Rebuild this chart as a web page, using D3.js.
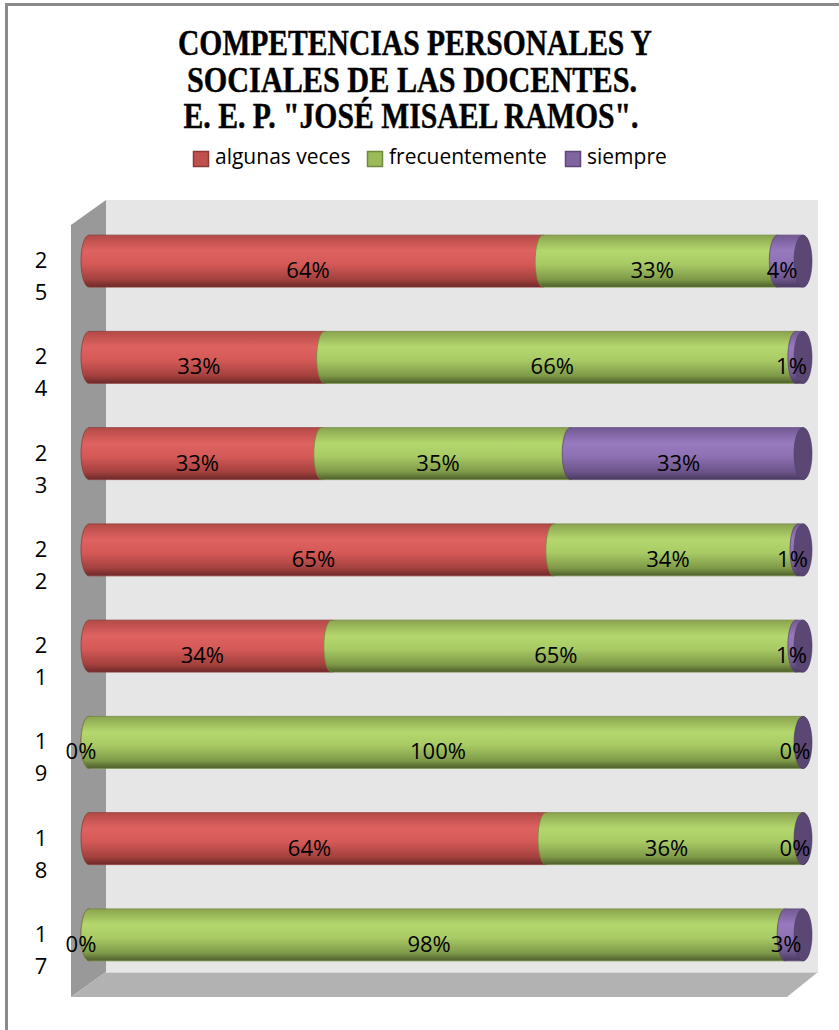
<!DOCTYPE html>
<html><head><meta charset="utf-8">
<script src="https://cdn.jsdelivr.net/npm/d3@7"></script>
<style>html,body{margin:0;padding:0;background:#fff;}svg{display:block;}</style>
</head><body>
<div id="chart"></div>
<script>
// ---- data ----
const categories = ["2 5", "2 4", "2 3", "2 2", "2 1", "1 9", "1 8", "1 7"];
const seriesNames = ["algunas veces", "frecuentemente", "siempre"];
const algunasVeces   = [63.6, 33.0, 32.6, 65.1, 34.0, 0.0, 64.0, 0.0];
const frecuentemente = [32.8, 66.0, 34.8, 34.2, 65.0, 100.0, 36.0, 97.5];
const siempre        = [3.6, 1.0, 32.6, 0.7, 1.0, 0.0, 0.0, 2.5];
const titleLines = ["COMPETENCIAS PERSONALES Y", "SOCIALES DE LAS DOCENTES.", "E. E. P. \"JOSÉ MISAEL RAMOS\"."];

const W = 839, H = 1030;
const svg = d3.select("#chart").append("svg").attr("width", W).attr("height", H);
const defs = svg.append("defs");

const palette = [
  {base:"#c0504d", stops:["#b34a47","#de625f","#d55a57","#a4413e","#6c2a28"], cap:"#8e3a38", edge:"#8c3836"},
  {base:"#9bbb59", stops:["#8aa44f","#b4d76d","#a9cb65","#7f9a48","#4d5e2c"], cap:"#6d8540", edge:"#71893f"},
  {base:"#8064a2", stops:["#735a92","#9879bf","#8e71b3","#6b5489","#493a5f"], cap:"#5b4774", edge:"#5c4776"}
];
palette.forEach((p, i) => {
  const g = defs.append("linearGradient").attr("id", "grad" + i)
    .attr("x1", 0).attr("y1", 0).attr("x2", 0).attr("y2", 1);
  [0, 0.3, 0.55, 0.85, 1].forEach((o, k) => g.append("stop").attr("offset", o).attr("stop-color", p.stops[k]));
});

// outer border
svg.append("rect").attr("x", 6.5).attr("y", 4.5).attr("width", 840).attr("height", 1040)
  .attr("fill", "none").attr("stroke", "#8a8a8a").attr("stroke-width", 3);

// ---- 3D frame ----
const wallL = 106, wallR = 818, wallT = 200, wallB = 972, dX = -35, dY = 25;
svg.append("rect").attr("x", wallL).attr("y", wallT).attr("width", wallR - wallL).attr("height", wallB - wallT)
  .attr("fill", "#e6e6e6");
svg.append("polygon").attr("points", [[wallL + dX, wallT + dY], [wallL, wallT], [wallL, wallB], [wallL + dX, wallB + dY]].join(" "))
  .attr("fill", "#999999");
svg.append("polygon").attr("points", [[wallL + dX, wallB + dY], [wallL, wallB], [wallR, wallB], [wallR - 31, wallB + dY]].join(" "))
  .attr("fill", "#b2b2b2");
svg.append("line").attr("x1", wallL).attr("x2", wallR).attr("y1", wallB + 0.5).attr("y2", wallB + 0.5)
  .attr("stroke", "#d6d6d6").attr("stroke-width", 1);

// ---- scales ----
const x = d3.scaleLinear().domain([0, 100]).range([89, 803]);
const y = d3.scaleBand().domain(categories).range([213, 983]).padding(0);
const ry = y.bandwidth() * 0.27, rx = 8, capRx = 9;

const table = categories.map((c, i) => ({cat: c, vals: [algunasVeces[i], frecuentemente[i], siempre[i]]}));

function segPath(xs, xe, cy) {
  return `M${xs},${cy - ry}L${xe},${cy - ry}A${rx},${ry} 0 0 1 ${xe},${cy + ry}L${xs},${cy + ry}A${rx},${ry} 0 0 1 ${xs},${cy - ry}Z`;
}

const bars = svg.append("g");
const labels = svg.append("g").attr("font-family", "'Open Sans', sans-serif").attr("font-size", 22).attr("fill", "#000");
table.forEach(row => {
  const cy = y(row.cat) + y.bandwidth() / 2;
  let acc = 0;
  const segs = row.vals.map((v, k) => { const s = {k, v, x0: acc, x1: acc + v}; acc += v; return s; });
  segs.forEach(s => {
    bars.append("path").attr("d", segPath(x(s.x0), x(s.x1), cy))
      .attr("fill", `url(#grad${s.k})`).attr("stroke", palette[s.k].edge).attr("stroke-width", 0.8);
  });
  bars.append("ellipse").attr("cx", x(acc)).attr("cy", cy).attr("rx", capRx).attr("ry", ry)
    .attr("fill", palette[2].cap).attr("stroke", "#4f3d66").attr("stroke-width", 0.6);
  segs.forEach(s => {
    labels.append("text").attr("x", (x(s.x0) + x(s.x1)) / 2 - 8).attr("y", cy + 17)
      .attr("text-anchor", "middle").text(Math.round(s.v) + "%");
  });
});

// category labels
const catG = svg.append("g").attr("font-family", "'Open Sans', sans-serif").attr("font-size", 22).attr("fill", "#000");
categories.forEach(c => {
  const cy = y(c) + y.bandwidth() / 2;
  const parts = c.split(" ");
  catG.append("text").attr("x", 41).attr("y", cy + 7).attr("text-anchor", "middle").text(parts[0]);
  catG.append("text").attr("x", 41).attr("y", cy + 39).attr("text-anchor", "middle").text(parts[1]);
});

// title
const titleWidths = [474, 450, 455];
const titleCx = [415, 412, 411];
titleLines.forEach((t, i) => {
  svg.append("text").attr("x", titleCx[i]).attr("y", 55 + i * 36.5).attr("text-anchor", "middle")
    .attr("font-family", "'Liberation Serif', serif").attr("font-weight", "bold").attr("font-size", 35)
    .attr("stroke", "#000").attr("stroke-width", 0.4)
    .attr("textLength", titleWidths[i]).attr("lengthAdjust", "spacingAndGlyphs").text(t);
});

// legend
const legX = [193, 367, 565];
const leg = svg.append("g").attr("font-family", "'Open Sans', sans-serif").attr("font-size", 21);
seriesNames.forEach((n, i) => {
  leg.append("rect").attr("x", legX[i] + 0.5).attr("y", 151.5).attr("width", 15).attr("height", 15)
    .attr("fill", palette[i].base).attr("stroke", palette[i].edge).attr("stroke-width", 1.5);
  leg.append("text").attr("x", legX[i] + 22).attr("y", 164).text(n);
});
</script>
</body></html>
